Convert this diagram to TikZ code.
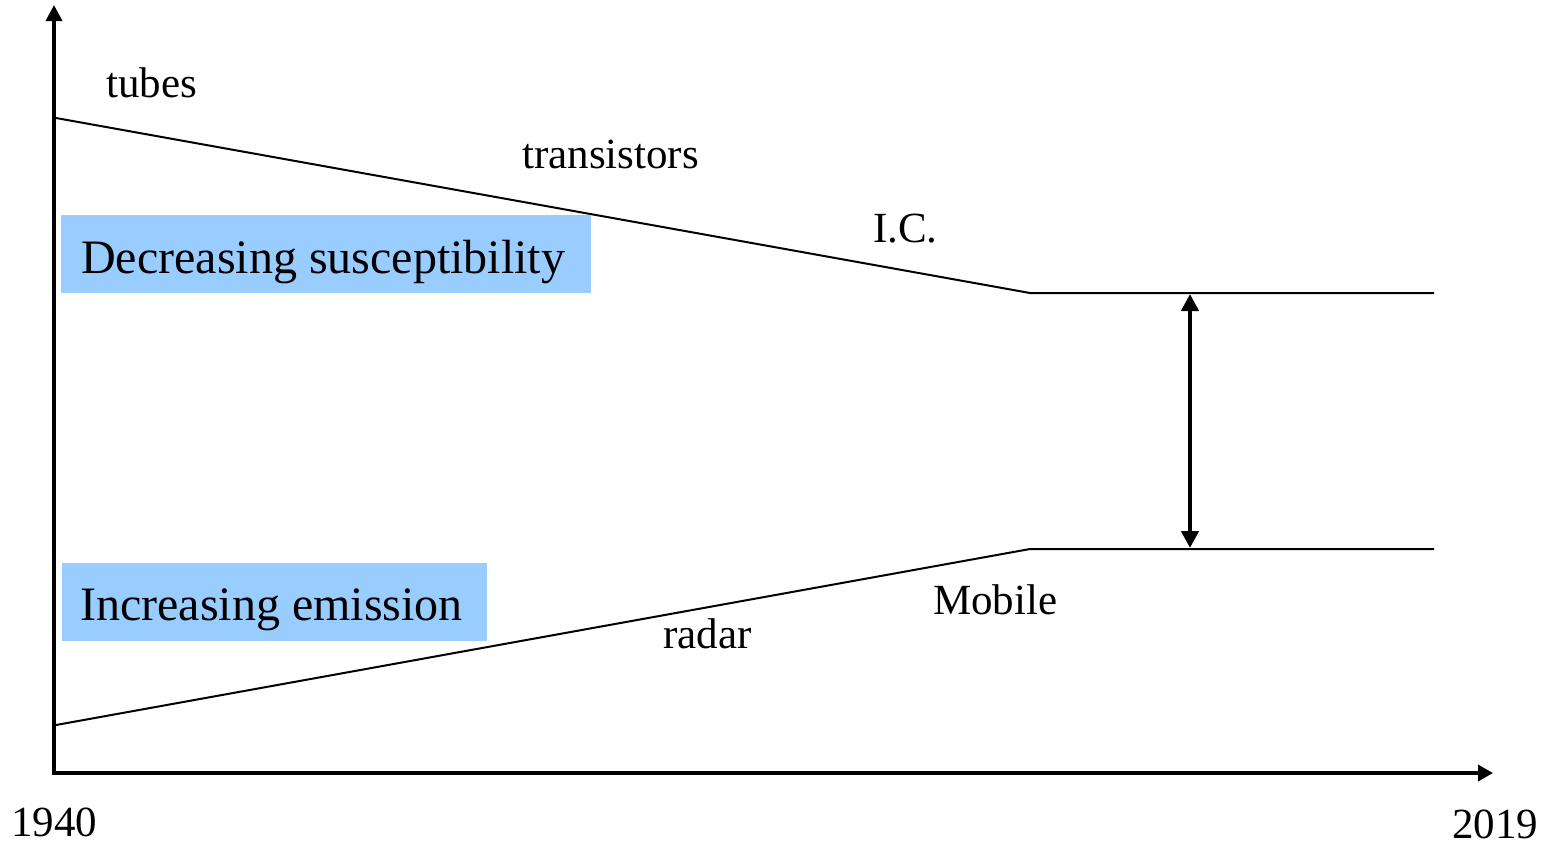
\documentclass[tikz,border=0pt]{standalone}
\usepackage{fontspec}
\setmainfont{Liberation Serif}
\usetikzlibrary{arrows.meta}
\definecolor{boxblue}{HTML}{99CCFF}
\begin{document}
\begin{tikzpicture}[x=1pt,y=-1pt,
  axis/.style={line width=3.5pt, line join=miter},
  trend/.style={line width=2pt},
  gap/.style={line width=4.5pt},
  lbl/.style={anchor=base west, inner sep=0pt, font=\fontsize{43}{50}\selectfont},
  biglbl/.style={anchor=base west, inner sep=0pt, font=\fontsize{48}{56}\selectfont}]
\useasboundingbox (0,0) rectangle (1554,844);
% coordinates
\coordinate (ytop) at (54,5);
\coordinate (orig) at (54,773);
\coordinate (xend) at (1493,773);
\coordinate (u0) at (56,118);
\coordinate (u1) at (1030,293);
\coordinate (u2) at (1434,293);
\coordinate (l0) at (56,725);
\coordinate (l1) at (1030,549);
\coordinate (l2) at (1434,549);
\coordinate (gtop) at (1190,294);
\coordinate (gbot) at (1190,548);
% trend lines
\draw[trend] (u0) -- (u1) -- (u2);
\draw[trend] (l0) -- (l1) -- (l2);
% boxes
\fill[boxblue] (61,215) rectangle (591,293);
\fill[boxblue] (62,563) rectangle (487,641);
\node[biglbl] (dec) at (81,273) {Decreasing susceptibility};
\node[biglbl] (inc) at (80,620) {Increasing emission};
% axes
\draw[axis, {Triangle[length=16pt,width=16pt]}-{Triangle[length=15pt,width=16pt]}] (ytop) -- (orig) -- (xend);
% gap arrow
\draw[gap, {Triangle[length=17pt,width=17pt]}-{Triangle[length=17pt,width=17pt]}] (gtop) -- (gbot);
% labels
\node[lbl] (tubes) at (106,97) {tubes};
\node[lbl] (trans) at (522,168) {transistors};
\node[lbl] (ic) at (873,242) {I.C.};
\node[lbl] (mobile) at (933,614) {Mobile};
\node[lbl] (radar) at (663,648) {radar};
\node[lbl, text depth=0pt] (y1940) at (11,836) {1940};
\node[lbl, text depth=0pt] (y2019) at (1452,838) {2019};
\end{tikzpicture}
\end{document}
